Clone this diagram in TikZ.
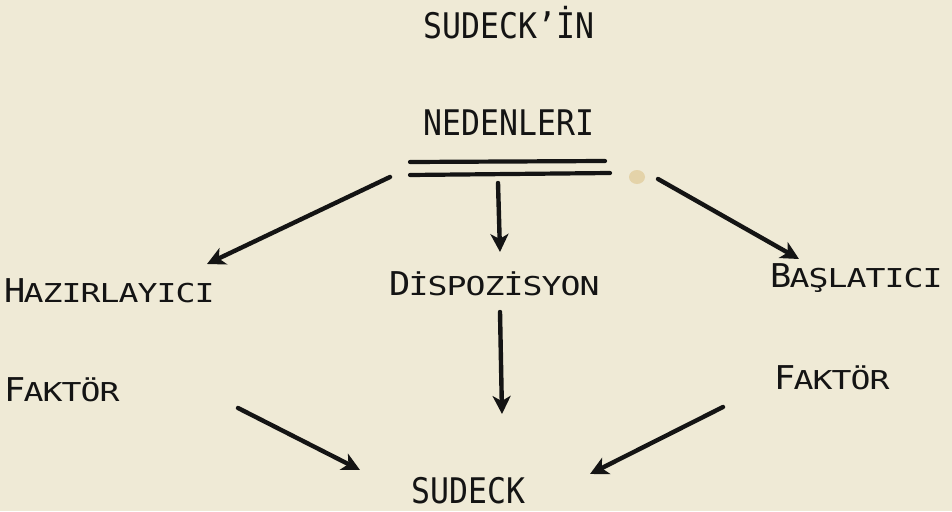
\documentclass[tikz,border=0pt]{standalone}
\usepackage{fontspec}
\usepackage{graphicx}
\newfontfamily\twfont{DejaVu Sans Mono}
\usetikzlibrary{arrows.meta}
\definecolor{paper}{RGB}{239,234,214}
\definecolor{ink}{RGB}{20,20,20}
\definecolor{stain}{RGB}{216,184,116}
\ExplSyntaxOn
\cs_new_protected:Npn \__mono_box:n #1 {\makebox[19pt][c]{\scalebox{1}[1.12]{#1}}}
\cs_new_protected:Npn \__mono_wbox:n #1 {\makebox[19pt][c]{\scalebox{1.3}[1.02]{#1}}}
\cs_new_protected:Npn \__mono_fbox:n #1 {\makebox[19pt][c]{\scalebox{1.12}[1.04]{#1}}}
\NewDocumentCommand\mono{m}{\tl_map_function:nN {#1} \__mono_box:n}
\NewDocumentCommand\bigtw{m}{{\fontsize{31.5}{32}\selectfont\mono{#1}}}
\NewDocumentCommand\scap{mm}{{\fontsize{31.5}{32}\selectfont\tl_map_function:nN {#1} \__mono_fbox:n}{\fontsize{25.5}{26}\selectfont\tl_map_function:nN {#2} \__mono_wbox:n}}
\ExplSyntaxOff
\begin{document}
\begin{tikzpicture}[x=1pt,y=-1pt,
  lbl/.style={inner sep=0pt, anchor=base west, text=ink, font=\twfont},
  arr/.style={draw=ink, line width=4.4pt, line cap=round,
    -{Stealth[length=18pt,width=18pt,inset=5pt]}},
  dbl/.style={draw=ink, line width=4.2pt, line cap=round}]
\useasboundingbox (0,0) rectangle (952,511);
\fill[paper] (0,0) rectangle (952,511);
\fill[stain, opacity=0.45] (637,177) ellipse (8 and 7);

% texts
\node[lbl] (title1) at (423,39) {\bigtw{SUDECK’İN}};
\node[lbl] (title2) at (423,135) {\bigtw{NEDENLERI}};
\node[lbl] (haz) at (5,302) {\scap{H}{AZIRLAYICI}};
\node[lbl] (disp) at (390,295) {\scap{D}{İSPOZİSYON}};
\node[lbl] (bas) at (771,287) {\scap{B}{AŞLATICI}};
\node[lbl] (fak1) at (5,401) {\scap{F}{AKTÖR}};
\node[lbl] (fak2) at (775,389) {\scap{F}{AKTÖR}};
\node[lbl] (sud) at (411,503) {\bigtw{SUDECK}};

% double underline
\coordinate (u1a) at (410,162);
\coordinate (u1b) at (605,161);
\coordinate (u2a) at (410,175);
\coordinate (u2b) at (610,173);
\draw[dbl] (u1a) -- (u1b);
\draw[dbl] (u2a) -- (u2b);

% arrow end points
\coordinate (a1s) at (390,177);
\coordinate (a1e) at (207,264);
\coordinate (a2s) at (498,183);
\coordinate (a2e) at (500,252);
\coordinate (a3s) at (658,179);
\coordinate (a3e) at (799,259);
\coordinate (a4s) at (500,312);
\coordinate (a4e) at (502,414);
\coordinate (a5s) at (238,408);
\coordinate (a5e) at (360,470);
\coordinate (a6s) at (723,407);
\coordinate (a6e) at (590,474);

\draw[arr] (a1s) -- (a1e);
\draw[arr] (a2s) -- (a2e);
\draw[arr] (a3s) -- (a3e);
\draw[arr] (a4s) -- (a4e);
\draw[arr] (a5s) -- (a5e);
\draw[arr] (a6s) -- (a6e);
\end{tikzpicture}
\end{document}
